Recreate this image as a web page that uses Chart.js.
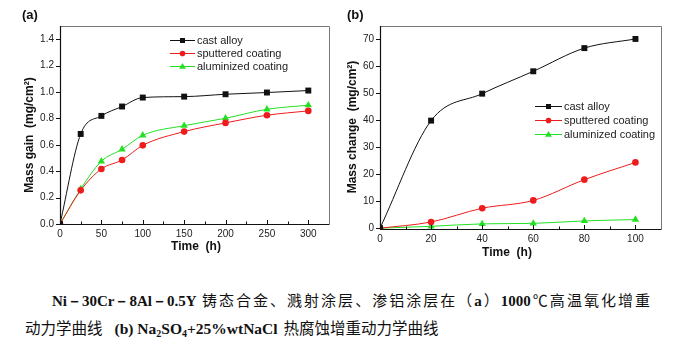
<!DOCTYPE html>
<html>
<head>
<meta charset="utf-8">
<script src="https://cdn.jsdelivr.net/npm/chart.js@4/dist/chart.umd.min.js"></script>
<style>
  html, body { margin:0; padding:0; background:#fff; }
  body { width:680px; height:355px; position:relative; overflow:hidden; }
  canvas { position:absolute; top:0; }
  #cA { left:0; }
  #cB { left:340px; }
  .cap { position:absolute; font-family:"Noto Sans CJK SC", sans-serif; font-size:15px; color:#111; white-space:nowrap; line-height:20px; }
  .lat { font-family:"Liberation Serif", serif; font-weight:bold; }
  #l1 { left:52px; top:290px; width:598px; text-align:justify; text-align-last:justify; }
  #l2 { left:25px; top:317px; font-size:15.5px; }
  #l2 .lat { margin-left:12px; margin-right:6px; }
  sub { font-size:10px; vertical-align:-3px; line-height:0; }
</style>
</head>
<body>
<canvas id="cA" width="340" height="280"></canvas>
<canvas id="cB" width="340" height="280"></canvas>
<div class="cap" id="l1"><span class="lat">Ni－30Cr－8Al－0.5Y</span> 铸态合金、溅射涂层、渗铝涂层在（<span class="lat">a</span>）<span class="lat">1000</span>℃高温氧化增重</div>
<div class="cap" id="l2">动力学曲线<span class="lat">(b) Na<sub>2</sub>SO<sub>4</sub>+25%wtNaCl</span>热腐蚀增重动力学曲线</div>
<script>
// ---- data: panel (a) ----
const seriesNames = ['cast alloy', 'sputtered coating', 'aluminized coating'];
const timeA = [0, 25, 50, 75, 100, 150, 200, 250, 300];
const castA = [0, 0.682, 0.819, 0.89, 0.958, 0.965, 0.983, 0.996, 1.011];
const sputA = [0, 0.255, 0.417, 0.485, 0.596, 0.70, 0.766, 0.824, 0.857];
const aluA  = [0, 0.265, 0.475, 0.566, 0.672, 0.745, 0.801, 0.869, 0.90];
const xTicksA = [0, 50, 100, 150, 200, 250, 300];
const xMinorA = [25, 75, 125, 175, 225, 275];
const yTicksA = [0.0, 0.2, 0.4, 0.6, 0.8, 1.0, 1.2, 1.4];
// ---- data: panel (b) ----
const timeB = [0, 20, 40, 60, 80, 100];
const castB = [0, 39.9, 49.9, 58.2, 66.8, 70.2];
const sputB = [0, 2.3, 7.4, 10.3, 18.0, 24.4];
const aluB  = [0, 0.7, 1.6, 1.8, 2.7, 3.2];
const xTicksB = [0, 20, 40, 60, 80, 100];
const xMinorB = [10, 30, 50, 70, 90];
const yTicksB = [0, 10, 20, 30, 40, 50, 60, 70];

const colors = ['#111111', '#ee1c1c', '#22e022'];
const styles = ['rect', 'circle', 'triangle'];
const radii = [4.2, 3.3, 4.2];

function toXY(xs, ys) { return xs.map((x, i) => ({ x: x, y: ys[i] })); }

function makeDatasets(xs, list) {
  return list.map((ys, i) => ({
    label: seriesNames[i],
    data: toXY(xs, ys),
    borderColor: colors[i],
    backgroundColor: colors[i],
    borderWidth: 1,
    pointStyle: styles[i],
    pointRadius: radii[i],
    pointBorderWidth: 0,
    pointBackgroundColor: colors[i],
    cubicInterpolationMode: 'monotone',
    fill: false
  }));
}

function drawMarker(ctx, style, x, y, r, color) {
  ctx.save();
  ctx.fillStyle = color;
  ctx.beginPath();
  if (style === 'rect') {
    const s = r * Math.SQRT1_2;
    ctx.rect(x - s, y - s, 2 * s, 2 * s);
  } else if (style === 'circle') {
    ctx.arc(x, y, r, 0, Math.PI * 2);
  } else {
    ctx.moveTo(x, y - r);
    ctx.lineTo(x + r * 0.95, y + r * 0.6);
    ctx.lineTo(x - r * 0.95, y + r * 0.6);
    ctx.closePath();
  }
  ctx.fill();
  ctx.restore();
}

function framePlugin(cfg) {
  return {
    id: 'frame' + cfg.panel,
    afterDraw(chart) {
      const ctx = chart.ctx;
      const a = chart.chartArea;
      const xs = chart.scales.x, ys = chart.scales.y;
      ctx.save();
      ctx.strokeStyle = '#777';
      ctx.lineWidth = 1;
      ctx.beginPath();
      ctx.moveTo(a.left, a.top + 0.5); ctx.lineTo(a.right + 0.5, a.top + 0.5);
      ctx.lineTo(a.right + 0.5, a.bottom);
      ctx.stroke();
      ctx.strokeStyle = '#111';
      ctx.lineWidth = 1.2;
      ctx.beginPath();
      ctx.moveTo(a.left + 0.5, a.top); ctx.lineTo(a.left + 0.5, a.bottom + 0.5);
      ctx.lineTo(a.right + 0.5, a.bottom + 0.5);
      ctx.stroke();
      ctx.lineWidth = 1;
      ctx.beginPath();
      cfg.xMajor.forEach(v => { const px = Math.round(xs.getPixelForValue(v)) + 0.5; ctx.moveTo(px, a.bottom); ctx.lineTo(px, a.bottom - 4); });
      cfg.xMinor.forEach(v => { const px = Math.round(xs.getPixelForValue(v)) + 0.5; ctx.moveTo(px, a.bottom); ctx.lineTo(px, a.bottom - 2.5); });
      cfg.yMajor.forEach(v => { const py = Math.round(ys.getPixelForValue(v)) + 0.5; ctx.moveTo(a.left, py); ctx.lineTo(a.left - 4, py); });
      ctx.stroke();
      ctx.fillStyle = '#111';
      ctx.font = 'bold 13px "Liberation Sans", Arial, sans-serif';
      ctx.textAlign = 'left'; ctx.textBaseline = 'middle';
      ctx.fillText(cfg.panel, cfg.panelX, 15);
      ctx.font = 'bold 12px "Liberation Sans", Arial, sans-serif';
      ctx.textAlign = 'center';
      ctx.fillText('Time  (h)', cfg.xTitleX, cfg.xTitleY);
      ctx.save();
      ctx.translate(cfg.yTitleX, cfg.yTitleY);
      ctx.rotate(-Math.PI / 2);
      ctx.fillText(cfg.yTitle, 0, 0);
      ctx.restore();
      ctx.font = '11px "Liberation Sans", Arial, sans-serif';
      ctx.textAlign = 'left';
      chart.data.datasets.forEach((ds, i) => {
        const y = cfg.legY + i * cfg.legDy;
        ctx.strokeStyle = ds.borderColor;
        ctx.lineWidth = 1;
        ctx.beginPath();
        ctx.moveTo(cfg.legX1, y + 0.5); ctx.lineTo(cfg.legX2, y + 0.5);
        ctx.stroke();
        drawMarker(ctx, ds.pointStyle, (cfg.legX1 + cfg.legX2) / 2, y + 0.5, ds.pointRadius * 0.85, ds.pointBackgroundColor);
        ctx.fillStyle = '#222';
        ctx.fillText(ds.label, cfg.legX2 + 2, y + 0.5);
      });
      ctx.restore();
    }
  };
}

function makeChart(id, datasets, o) {
  return new Chart(document.getElementById(id), {
    type: 'line',
    data: { datasets: datasets },
    options: {
      responsive: false,
      animation: false,
      events: [],
      layout: { padding: { left: 0, right: o.padRight, top: o.padTop, bottom: 0 } },
      scales: {
        x: {
          type: 'linear', min: o.xMin, max: o.xMax,
          grid: { display: false, drawTicks: false },
          border: { display: false },
          afterBuildTicks: s => { s.ticks = o.xMajor.map(v => ({ value: v })); },
          afterFit: s => { s.height = o.xHeight; },
          ticks: { padding: 4, color: '#222', font: { family: '"Liberation Sans", Arial, sans-serif', size: 10 }, maxRotation: 0 }
        },
        y: {
          type: 'linear', min: o.yMin, max: o.yMax,
          grid: { display: false, drawTicks: false },
          border: { display: false },
          afterBuildTicks: s => { s.ticks = o.yMajor.map(v => ({ value: v })); },
          afterFit: s => { s.width = o.yWidth; },
          ticks: { padding: 6, color: '#222', font: { family: '"Liberation Sans", Arial, sans-serif', size: 10 }, callback: o.yFmt }
        }
      },
      plugins: { legend: { display: false }, tooltip: { enabled: false } }
    },
    plugins: [framePlugin(o)]
  });
}

makeChart('cA', makeDatasets(timeA, [castA, sputA, aluA]), {
  panel: '(a)', panelX: 22,
  padRight: 11, padTop: 26, xHeight: 56, yWidth: 60,
  xMin: 0, xMax: 325, yMin: 0, yMax: 1.5,
  xMajor: xTicksA, xMinor: xMinorA, yMajor: yTicksA,
  yFmt: v => v.toFixed(1),
  xTitleX: 196, xTitleY: 247, yTitleX: 30, yTitleY: 135, yTitle: 'Mass gain  (mg/cm²)',
  legX1: 170, legX2: 195, legY: 40, legDy: 13
});

makeChart('cB', makeDatasets(timeB, [castB, sputB, aluB]), {
  panel: '(b)', panelX: 7,
  padRight: 19, padTop: 26, xHeight: 51, yWidth: 40,
  xMin: 0, xMax: 110, yMin: -0.3, yMax: 75,
  xMajor: xTicksB, xMinor: xMinorB, yMajor: yTicksB,
  yFmt: v => String(v),
  xTitleX: 167, xTitleY: 253, yTitleX: 13, yTitleY: 127, yTitle: 'Mass change  (mg/cm²)',
  legX1: 195, legX2: 222, legY: 106, legDy: 14
});
</script>
</body>
</html>
